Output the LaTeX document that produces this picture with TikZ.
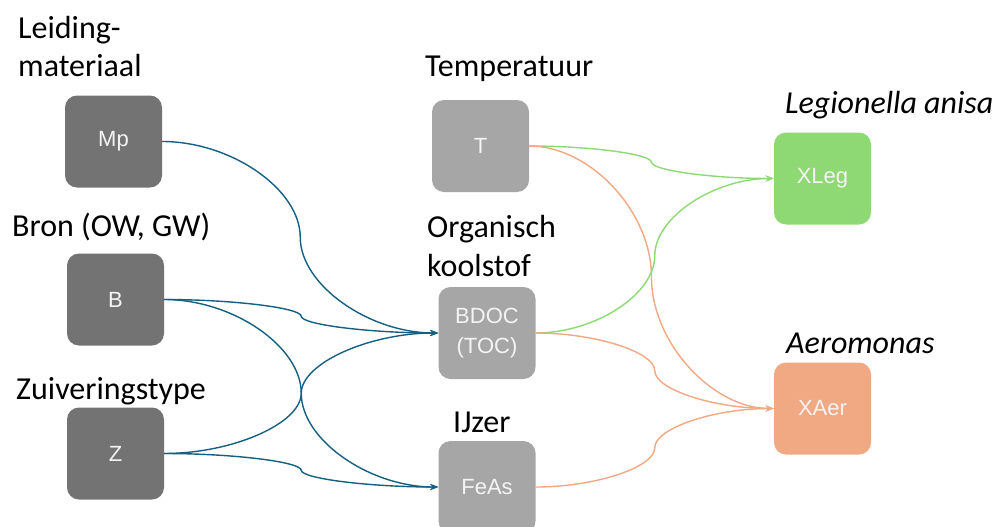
\documentclass[tikz,border=0pt]{standalone}
\usepackage{fontspec}
\setmainfont{Carlito}
\newfontfamily\boxfont{Liberation Sans}
\usetikzlibrary{calc,arrows.meta}
\definecolor{darkbox}{HTML}{737373}
\definecolor{lightbox}{HTML}{A6A6A6}
\definecolor{greenbox}{HTML}{8ED973}
\definecolor{orangebox}{HTML}{F1A983}
\definecolor{blueline}{HTML}{156082}
\definecolor{boxtext}{HTML}{F4F4F4}
\tikzset{
  box/.style={rectangle, rounded corners=12pt, minimum width=97pt, minimum height=92pt,
    inner sep=0pt, text=boxtext, font=\boxfont\fontsize{22}{30}\selectfont, align=center},
  lbl/.style={inner sep=0pt, anchor=base west, align=left, font=\fontsize{32}{39}\selectfont},
  ccon/.style={-{Stealth[length=8pt,width=6pt]}, line width=1.4pt,
    to path={let \p1=(\tikztostart), \p2=(\tikztotarget) in
      .. controls ({(3*\x1+\x2)/4},\y1) and ({(\x1+\x2)/2},{(3*\y1+\y2)/4}) ..
      ({(\x1+\x2)/2},{(\y1+\y2)/2})
      .. controls ({(\x1+\x2)/2},{(\y1+3*\y2)/4}) and ({(\x1+3*\x2)/4},\y2) ..
      (\tikztotarget) \tikztonodes}},
  bluecon/.style={ccon, draw=blueline},
  greencon/.style={ccon, draw=greenbox},
  orangecon/.style={ccon, draw=orangebox}
}
\begin{document}
\begin{tikzpicture}[x=1pt,y=-1pt]
\useasboundingbox[fill=white] (0,0) rectangle (998,527);
% boxes
\node[box, fill=darkbox] (Mp) at (113.5,141.5) {Mp};
\node[box, fill=darkbox] (B) at (115.5,299.5) {B};
\node[box, fill=darkbox] (Z) at (115.5,453.5) {Z};
\node[box, fill=lightbox] (T) at (480.5,146) {T};
\node[box, fill=lightbox] (BDOC) at (487,333) {BDOC\\(TOC)};
\node[box, fill=lightbox] (FeAs) at (487,487) {FeAs};
\node[box, fill=greenbox] (XLeg) at (822.5,178.5) {XLeg};
\node[box, fill=orangebox] (XAer) at (822.5,408.5) {XAer};
% labels (base anchor = baseline of last line)
\node[lbl] (lMp) at (18,77) {Leiding-\\materiaal};
\node[lbl] (lB) at (12,236) {Bron (OW, GW)};
\node[lbl] (lZ) at (16,399) {Zuiveringstype};
\node[lbl] (lT) at (425,77) {Temperatuur};
\node[lbl] (lBDOC) at (427,276) {Organisch\\koolstof};
\node[lbl] (lFeAs) at (453,432) {IJzer};
\node[lbl, font=\fontsize{32}{39}\selectfont\itshape] (lXLeg) at (785,113) {Legionella anisa};
\node[lbl, font=\fontsize{32}{39}\selectfont\itshape] (lXAer) at (786,353) {Aeromonas};
% connectors
\draw[bluecon] (Mp.east) to (BDOC.west);
\draw[bluecon] (B.east) to (BDOC.west);
\draw[bluecon] (B.east) to (FeAs.west);
\draw[bluecon] (Z.east) to (BDOC.west);
\draw[bluecon] (Z.east) to (FeAs.west);
\draw[greencon] (T.east) to (XLeg.west);
\draw[orangecon] (T.east) to (XAer.west);
\draw[greencon] (BDOC.east) to (XLeg.west);
\draw[orangecon] (BDOC.east) to (XAer.west);
\draw[orangecon] (FeAs.east) to (XAer.west);
\end{tikzpicture}
\end{document}
